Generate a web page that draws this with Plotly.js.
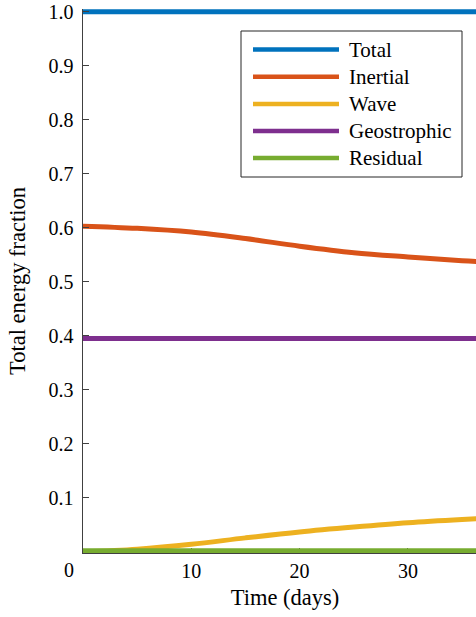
<!DOCTYPE html>
<html><head><meta charset="utf-8">
<script src="https://cdn.plot.ly/plotly-3.0.1.min.js"></script>
<style>html,body{margin:0;padding:0;overflow:hidden;background:#fff;width:476px;height:617px}</style>
</head><body><div id="chart"></div>
<script>
// ---- data ----
const days = [0, 5, 10, 15, 20, 25, 30, 35, 38];
const total = [1.0, 1.0, 1.0, 1.0, 1.0, 1.0, 1.0, 1.0, 1.0];
const inertial = [0.603, 0.599, 0.592, 0.580, 0.566, 0.554, 0.546, 0.539, 0.536];
const wave = [0.000, 0.005, 0.014, 0.026, 0.037, 0.046, 0.054, 0.060, 0.063];
const geostrophic = [0.395, 0.395, 0.395, 0.395, 0.395, 0.395, 0.395, 0.395, 0.395];
const residual = [0.002, 0.002, 0.002, 0.002, 0.002, 0.002, 0.002, 0.002, 0.002];
const seriesNames = ["Total", "Inertial", "Wave", "Geostrophic", "Residual"];
const yTickVals = [0.1, 0.2, 0.3, 0.4, 0.5, 0.6, 0.7, 0.8, 0.9, 1.0];
const yTickText = ["0.1", "0.2", "0.3", "0.4", "0.5", "0.6", "0.7", "0.8", "0.9", "1.0"];
const xTickVals = [10, 20, 30];
const xTickText = ["10", "20", "30"];
const originLabel = "0";

// ---- styles ----
const colors = ["#0072BD", "#D95319", "#EDB120", "#7E2F8E", "#77AC30"];
const seriesData = [total, inertial, wave, geostrophic, residual];
const W = 520, H = 617, L = 83, R = 33, T = 9, B = 64;
const pw = W - L - R, ph = H - T - B;
const px2x = p => (p - L) / pw;
const px2y = p => (H - B - p) / ph;
const font = "Liberation Serif, Times New Roman, serif";
const axisCol = "#404040";

const traces = seriesData.map((ys, i) => ({
  x: days, y: ys, type: "scatter", mode: "lines", name: seriesNames[i],
  line: {color: colors[i], width: 5, shape: "spline", smoothing: 1},
  showlegend: false, hoverinfo: "skip"
}));
const shapes = [];
const annotations = [];
shapes.push({type: "rect", xref: "paper", yref: "paper",
  x0: px2x(241), x1: px2x(462), y0: px2y(31), y1: px2y(177),
  line: {color: "#262626", width: 1}, fillcolor: "#fff", layer: "above"});
const rowY = [49.5, 76.7, 104, 131, 158];
seriesNames.forEach((n, i) => {
  shapes.push({type: "line", xref: "paper", yref: "paper",
    x0: px2x(253), x1: px2x(339), y0: px2y(rowY[i]), y1: px2y(rowY[i]),
    line: {color: colors[i], width: 4.5}, layer: "above"});
  annotations.push({xref: "paper", yref: "paper", x: px2x(347), y: px2y(rowY[i]),
    xanchor: "left", yanchor: "middle", showarrow: false, text: n,
    font: {family: font, size: 21, color: "#000"}});
});
annotations.push({xref: "paper", yref: "paper", x: px2x(68.5), y: px2y(570),
  xanchor: "center", yanchor: "middle", showarrow: false, text: originLabel,
  font: {family: font, size: 20, color: "#000"}});

const layout = {
  width: W, height: H,
  margin: {l: L, r: R, t: T, b: B, pad: 0},
  paper_bgcolor: "#fff", plot_bgcolor: "#fff",
  showlegend: false,
  font: {family: font, size: 20, color: "#000"},
  xaxis: {range: [0, 37.3], tickvals: xTickVals, ticktext: xTickText,
    ticks: "inside", ticklen: 5, tickcolor: axisCol, tickwidth: 1,
    showline: true, linecolor: axisCol, linewidth: 1, showgrid: false, zeroline: false,
    layer: "below traces",
    tickfont: {family: font, size: 20, color: "#000"},
    title: {text: "Time (days)", font: {family: font, size: 22.5, color: "#000"}, standoff: 8},
    automargin: false, fixedrange: true},
  yaxis: {range: [-0.002, 1.005], tickvals: yTickVals, ticktext: yTickText,
    ticks: "inside", ticklen: 6, tickcolor: axisCol, tickwidth: 1,
    showline: true, linecolor: axisCol, linewidth: 1.5, showgrid: false, zeroline: false,
    ticklabelstandoff: 4,
    tickfont: {family: font, size: 20, color: "#000"},
    title: {text: "Total energy fraction", font: {family: font, size: 22.5, color: "#000"}, standoff: 16},
    automargin: false, fixedrange: true},
  shapes: shapes, annotations: annotations
};
Plotly.newPlot("chart", traces, layout, {displayModeBar: false, staticPlot: true});
</script></body></html>
